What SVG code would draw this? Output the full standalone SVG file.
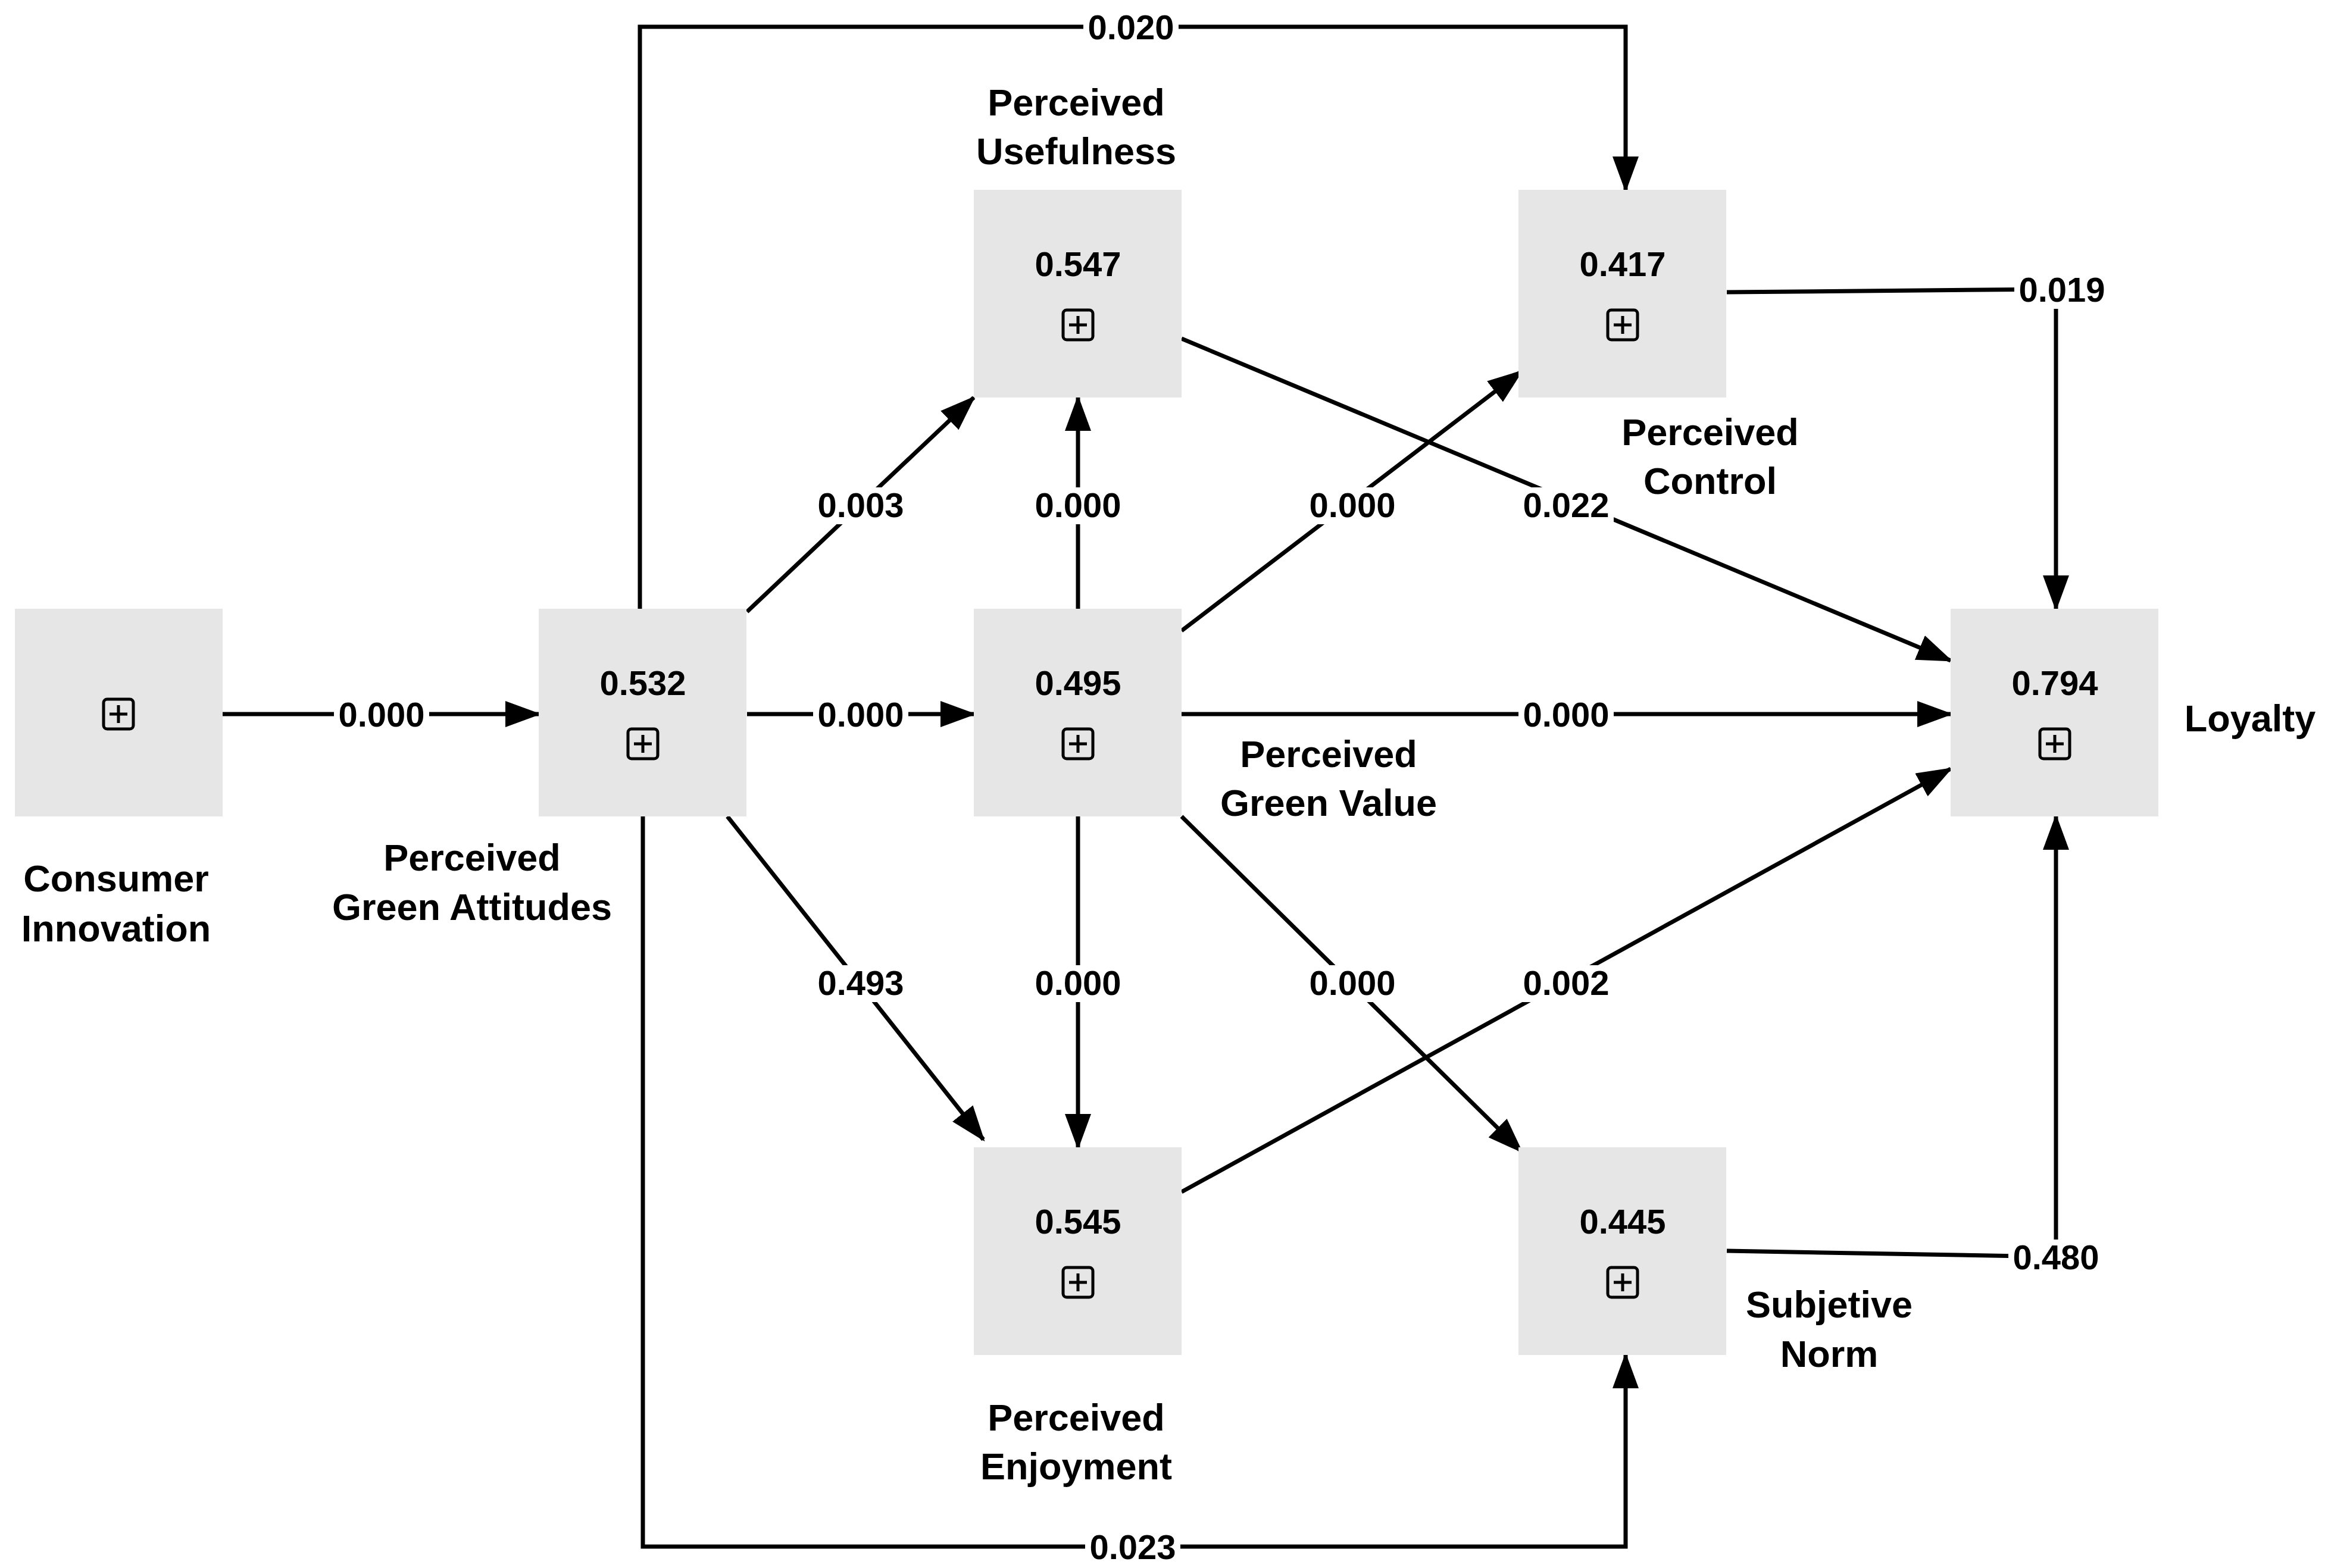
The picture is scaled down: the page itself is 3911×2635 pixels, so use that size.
<svg xmlns="http://www.w3.org/2000/svg" width="3911" height="2635" viewBox="0 0 3911 2635">
<style>
.box{fill:#e6e6e6}
.val{font-family:"Liberation Sans",Arial,sans-serif;font-weight:bold;font-size:58px;text-anchor:middle;fill:#000}
.lbl{font-family:"Liberation Sans",Arial,sans-serif;font-weight:bold;font-size:63px;text-anchor:middle;fill:#000}
.el{font-family:"Liberation Sans",Arial,sans-serif;font-weight:bold;font-size:58px;text-anchor:middle;fill:#000}
.bg{fill:#fff}
.c{stroke:#000;stroke-width:7;fill:none}
.ic{stroke:#000;stroke-width:5;fill:none}
</style>
<defs>
<marker id="a" markerUnits="userSpaceOnUse" markerWidth="60" markerHeight="44" refX="56" refY="22" orient="auto"><path d="M0,0 L60,22 L0,44 Z" fill="#000"/></marker>
<g id="icon"><rect x="-25" y="-25" width="50" height="50" rx="6" class="ic"/><path d="M-15,0 H15 M0,-15 V15" class="ic"/></g>
<rect id="lb" class="bg" x="-80" y="-50" width="160" height="62"/>
</defs>
<g id="connectors">
<line class="c" x1="372" y1="1200" x2="905" y2="1200" marker-end="url(#a)"/>
<line class="c" x1="1255" y1="1200" x2="1636" y2="1200" marker-end="url(#a)"/>
<line class="c" x1="1985" y1="1200" x2="3277" y2="1200" marker-end="url(#a)"/>
<line class="c" x1="1255" y1="1028" x2="1636" y2="668" marker-end="url(#a)"/>
<line class="c" x1="1222" y1="1372" x2="1652" y2="1915" marker-end="url(#a)"/>
<line class="c" x1="1811" y1="1023" x2="1811" y2="668" marker-end="url(#a)"/>
<line class="c" x1="1811" y1="1372" x2="1811" y2="1928" marker-end="url(#a)"/>
<line class="c" x1="1985" y1="1060" x2="2556" y2="624" marker-end="url(#a)"/>
<line class="c" x1="1985" y1="1372" x2="2556" y2="1935" marker-end="url(#a)"/>
<line class="c" x1="1985" y1="569" x2="3277" y2="1110" marker-end="url(#a)"/>
<line class="c" x1="1985" y1="2003" x2="3277" y2="1292" marker-end="url(#a)"/>
<polyline class="c" points="2901,491 3454,486 3454,1023" marker-end="url(#a)"/>
<polyline class="c" points="2901,2102 3454,2112 3454,1372" marker-end="url(#a)"/>
<polyline class="c" points="1075,1023 1075,45 2731,45 2731,319" marker-end="url(#a)"/>
<polyline class="c" points="1080,1372 1080,2599 2731,2599 2731,2277" marker-end="url(#a)"/>
<use href="#lb" x="641" y="1221"/><text class="el" x="641" y="1221">0.000</text>
<use href="#lb" x="1446" y="1221"/><text class="el" x="1446" y="1221">0.000</text>
<use href="#lb" x="2631" y="1221"/><text class="el" x="2631" y="1221">0.000</text>
<use href="#lb" x="1446" y="869"/><text class="el" x="1446" y="869">0.003</text>
<use href="#lb" x="1446" y="1672"/><text class="el" x="1446" y="1672">0.493</text>
<use href="#lb" x="1811" y="869"/><text class="el" x="1811" y="869">0.000</text>
<use href="#lb" x="1811" y="1672"/><text class="el" x="1811" y="1672">0.000</text>
<use href="#lb" x="2272" y="869"/><text class="el" x="2272" y="869">0.000</text>
<use href="#lb" x="2272" y="1672"/><text class="el" x="2272" y="1672">0.000</text>
<use href="#lb" x="2631" y="869"/><text class="el" x="2631" y="869">0.022</text>
<use href="#lb" x="2631" y="1672"/><text class="el" x="2631" y="1672">0.002</text>
<use href="#lb" x="3464" y="507"/><text class="el" x="3464" y="507">0.019</text>
<use href="#lb" x="3454" y="2133"/><text class="el" x="3454" y="2133">0.480</text>
<use href="#lb" x="1900" y="66"/><text class="el" x="1900" y="66">0.020</text>
<use href="#lb" x="1903" y="2620"/><text class="el" x="1903" y="2620">0.023</text>
</g>
<g id="ci"><rect class="box" x="25" y="1023" width="349" height="349"/><use href="#icon" x="199" y="1200"/><text class="lbl" x="195" y="1498">Consumer</text><text class="lbl" x="195" y="1582">Innovation</text></g>
<g id="pga"><rect class="box" x="905" y="1023" width="349" height="349"/><text class="val" x="1080" y="1168">0.532</text><use href="#icon" x="1080" y="1250"/><text class="lbl" x="793" y="1463">Perceived</text><text class="lbl" x="793" y="1546">Green Attitudes</text></g>
<g id="pgv"><rect class="box" x="1636" y="1023" width="349" height="349"/><text class="val" x="1811" y="1168">0.495</text><use href="#icon" x="1811" y="1250"/><text class="lbl" x="2232" y="1289">Perceived</text><text class="lbl" x="2232" y="1371">Green Value</text></g>
<g id="pu"><rect class="box" x="1636" y="319" width="349" height="349"/><text class="val" x="1811" y="464">0.547</text><use href="#icon" x="1811" y="546"/><text class="lbl" x="1808" y="194">Perceived</text><text class="lbl" x="1808" y="276">Usefulness</text></g>
<g id="pe"><rect class="box" x="1636" y="1928" width="349" height="349"/><text class="val" x="1811" y="2073">0.545</text><use href="#icon" x="1811" y="2155"/><text class="lbl" x="1808" y="2404">Perceived</text><text class="lbl" x="1808" y="2486">Enjoyment</text></g>
<g id="pc"><rect class="box" x="2551" y="319" width="349" height="349"/><text class="val" x="2726" y="464">0.417</text><use href="#icon" x="2726" y="546"/><text class="lbl" x="2873" y="748">Perceived</text><text class="lbl" x="2873" y="830">Control</text></g>
<g id="sn"><rect class="box" x="2551" y="1928" width="349" height="349"/><text class="val" x="2726" y="2073">0.445</text><use href="#icon" x="2726" y="2155"/><text class="lbl" x="3073" y="2214">Subjetive</text><text class="lbl" x="3073" y="2297">Norm</text></g>
<g id="loy"><rect class="box" x="3277" y="1023" width="349" height="349"/><text class="val" x="3452" y="1168">0.794</text><use href="#icon" x="3452" y="1250"/><text class="lbl" x="3780" y="1229">Loyalty</text></g>
</svg>
